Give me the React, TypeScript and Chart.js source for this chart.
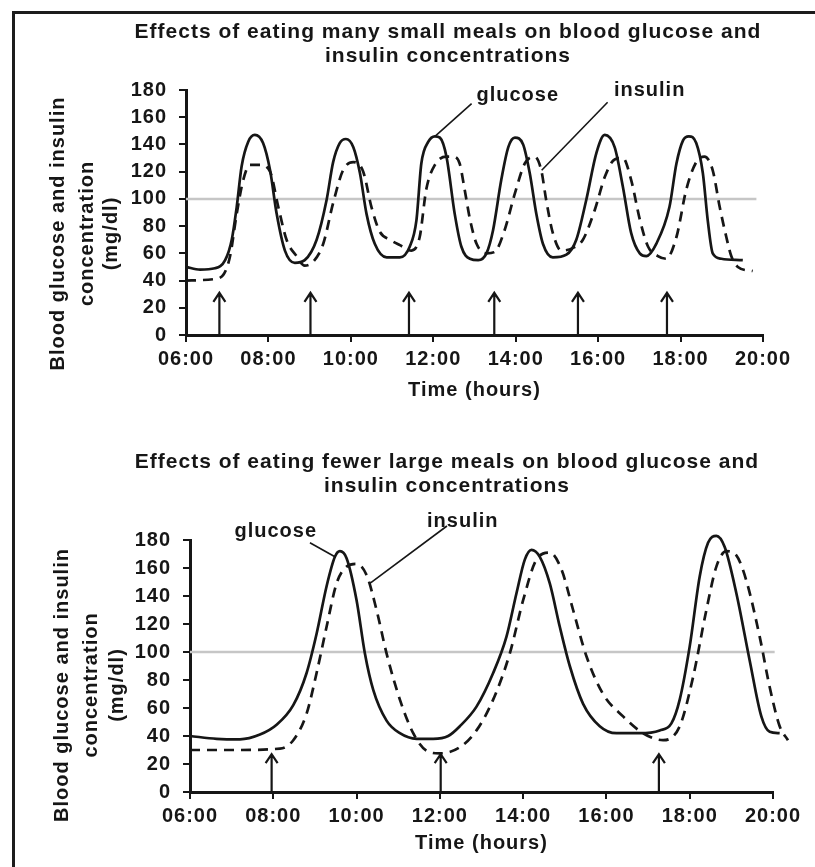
import React, { useEffect, useRef } from 'react';
import { Chart, registerables } from 'chart.js';

Chart.register(...registerables);

const FAMILY = '"Liberation Sans", Arial, Helvetica, sans-serif';
const INK = '#161616';
const LETTER = '1px';

// ---------- shared axis data ----------
const xTickValues = [6, 8, 10, 12, 14, 16, 18, 20];
const xTickLabels = ['06:00', '08:00', '10:00', '12:00', '14:00', '16:00', '18:00', '20:00'];
const yMin = 0;
const yMax = 180;
const yStep = 20;

// ---------- top chart: many small meals ----------
const smallGlucoseTimes = [
  6.0, 6.34, 6.7, 6.95, 7.11, 7.23, 7.35, 7.51, 7.67, 7.87, 8.04, 8.2, 8.4, 8.64, 8.88,
  9.17, 9.41, 9.57, 9.73, 9.88, 10.06, 10.22, 10.38, 10.58, 10.87, 11.19, 11.43, 11.59, 11.71, 11.88,
  12.04, 12.16, 12.32, 12.52, 12.68, 12.89, 13.09, 13.29, 13.45, 13.65, 13.82, 13.98, 14.18, 14.34, 14.5,
  14.66, 14.9, 15.23, 15.47, 15.71, 15.96, 16.16, 16.4, 16.6, 16.8, 17.01, 17.17, 17.41, 17.73, 17.9,
  18.06, 18.2, 18.38, 18.54, 18.66, 18.78, 18.99, 19.51,
];
const smallGlucoseValues = [
  50, 48, 49, 55, 70, 94, 124, 142, 147, 141, 121, 89, 62, 53, 55,
  70, 99, 127, 141, 144, 138, 119, 89, 67, 57, 57, 65, 84, 126, 142,
  146, 145, 131, 89, 65, 56, 55, 60, 77, 114, 138, 145, 140, 119, 89,
  67, 57, 59, 70, 99, 134, 147, 138, 109, 75, 60, 58, 67, 94, 126,
  143, 146, 141, 119, 84, 60, 56, 55,
];
const smallInsulinTimes = [
  6.0, 6.66, 6.9, 7.07, 7.23, 7.39, 7.55, 7.79, 8.04, 8.24, 8.44, 8.68, 8.88, 9.09, 9.33,
  9.57, 9.81, 10.06, 10.3, 10.5, 10.7, 10.95, 11.19, 11.47, 11.67, 11.83, 12.04, 12.32, 12.48, 12.64,
  12.76, 12.89, 13.05, 13.29, 13.49, 13.73, 13.98, 14.22, 14.46, 14.62, 14.74, 14.9, 15.11, 15.39, 15.63,
  15.92, 16.16, 16.4, 16.6, 16.8, 17.01, 17.21, 17.45, 17.65, 17.9, 18.14, 18.38, 18.58, 18.78, 18.95,
  19.11, 19.23, 19.39, 19.75,
];
const smallInsulinValues = [
  40, 41, 44, 58, 89, 114, 125, 125, 120, 94, 70, 58, 51, 54, 67,
  97, 121, 127, 120, 94, 76, 70, 66, 62, 72, 107, 125, 131, 131, 126,
  107, 85, 67, 60, 61, 77, 104, 126, 131, 121, 99, 75, 62, 64, 70,
  92, 116, 129, 130, 114, 85, 65, 58, 56, 72, 107, 127, 131, 121, 94,
  72, 58, 50, 47,
];
const smallRefTimes = [6.0, 19.84];
const smallRefValues = [100, 100];
const smallMealTimes = [6.81, 9.02, 11.41, 13.48, 15.51, 17.67];
const smallArrowTip = 31;

// ---------- bottom chart: fewer large meals ----------
const largeGlucoseTimes = [
  6.0, 6.64, 7.2, 7.68, 8.08, 8.48, 8.8, 9.04, 9.28, 9.48, 9.6, 9.76, 10.0, 10.2, 10.4,
  10.72, 11.04, 11.44, 11.84, 12.2, 12.48, 12.88, 13.28, 13.6, 13.84, 14.04, 14.2, 14.4, 14.64, 14.88,
  15.12, 15.44, 15.84, 16.24, 16.8, 17.28, 17.56, 17.76, 18.0, 18.24, 18.44, 18.64, 18.84, 19.12, 19.44,
  19.72, 19.92, 20.16,
];
const largeGlucoseValues = [
  40, 38, 37.6, 41, 48, 62, 85, 113, 147, 168, 172, 167, 137, 99, 73,
  51, 42, 38, 38, 40, 47, 61, 85, 111, 142, 166, 173, 168, 149, 118,
  90, 63, 47, 42, 42, 44, 49, 66, 104, 154, 178, 183, 175, 142, 94,
  54, 43, 42,
];
const largeInsulinTimes = [
  6.0, 7.04, 8.16, 8.48, 8.8, 9.04, 9.28, 9.52, 9.76, 10.0, 10.24, 10.48, 10.72, 11.04, 11.36,
  11.68, 12.0, 12.48, 12.88, 13.28, 13.68, 14.0, 14.32, 14.64, 14.92, 15.2, 15.52, 15.92, 16.4, 16.88,
  17.36, 17.76, 18.08, 18.4, 18.64, 18.88, 19.12, 19.36, 19.68, 19.92, 20.16, 20.36,
];
const largeInsulinValues = [
  30, 30, 31, 37, 56, 85, 118, 149, 161, 163, 155, 130, 99, 66, 42,
  29.5, 27.6, 32, 44, 66, 99, 137, 166, 171, 159, 130, 97, 70, 54, 42,
  37, 47, 82, 130, 161, 172, 169, 151, 111, 75, 47, 37,
];
const largeRefTimes = [6.0, 20.04];
const largeRefValues = [100, 100];
const largeMealTimes = [7.96, 12.02, 17.26];
const largeArrowTip = 27;

const toPoints = (xs: number[], ys: number[]) => xs.map((x, i) => ({ x, y: ys[i] }));

interface LabelSpec {
  text: string;
  x: number;
  y: number;
  fromX: number;
  fromY: number;
  toX: number;
  toY: number;
}

interface PanelSpec {
  width: number;
  height: number;
  padding: { left: number; right: number; top: number; bottom: number };
  titleLines: string[];
  titleX: number;
  titleBaselines: number[];
  xTitle: string;
  xTitleGap: number;
  yTitleLines: string[];
  yTitleOffsets: number[];
  yTitleShift: number;
  glucose: { x: number; y: number }[];
  insulin: { x: number; y: number }[];
  reference: { x: number; y: number }[];
  meals: number[];
  arrowTip: number;
  labels: LabelSpec[];
}

const Y_TITLE = ['Blood glucose and insulin', 'concentration', '(mg/dl)'];

const topSpec: PanelSpec = {
  width: 815,
  height: 420,
  padding: { left: 126, right: 52, top: 90, bottom: 45 },
  titleLines: ['Effects of eating many small meals on blood glucose and', 'insulin concentrations'],
  titleX: 448,
  titleBaselines: [38, 62],
  xTitle: 'Time (hours)',
  xTitleGap: 55,
  yTitleLines: Y_TITLE,
  yTitleOffsets: [128, 99, 75],
  yTitleShift: 21,
  glucose: toPoints(smallGlucoseTimes, smallGlucoseValues),
  insulin: toPoints(smallInsulinTimes, smallInsulinValues),
  reference: toPoints(smallRefTimes, smallRefValues),
  meals: smallMealTimes,
  arrowTip: smallArrowTip,
  labels: [
    { text: 'glucose', x: 14.05, y: 176, fromX: 12.93, fromY: 170, toX: 12.04, toY: 146 },
    { text: 'insulin', x: 17.25, y: 180, fromX: 16.23, fromY: 171, toX: 14.63, toY: 121 },
  ],
};

const bottomSpec: PanelSpec = {
  width: 815,
  height: 447,
  padding: { left: 130, right: 42, top: 120, bottom: 35 },
  titleLines: ['Effects of eating fewer large meals on blood glucose and', 'insulin concentrations'],
  titleX: 447,
  titleBaselines: [48, 72],
  xTitle: 'Time (hours)',
  xTitleGap: 51,
  yTitleLines: Y_TITLE,
  yTitleOffsets: [128, 99, 73],
  yTitleShift: 19,
  glucose: toPoints(largeGlucoseTimes, largeGlucoseValues),
  insulin: toPoints(largeInsulinTimes, largeInsulinValues),
  reference: toPoints(largeRefTimes, largeRefValues),
  meals: largeMealTimes,
  arrowTip: largeArrowTip,
  labels: [
    { text: 'glucose', x: 8.06, y: 186, fromX: 8.88, fromY: 178, toX: 9.48, toY: 168 },
    { text: 'insulin', x: 12.55, y: 193, fromX: 12.17, fromY: 190, toX: 10.32, toY: 149 },
  ],
};

function makeDecor(spec: PanelSpec) {
  return {
    id: 'decor',
    beforeDraw(chart: any) {
      chart.ctx.letterSpacing = LETTER;
    },
    afterDraw(chart: any) {
      const ctx: CanvasRenderingContext2D = chart.ctx;
      const xs = chart.scales.x;
      const ys = chart.scales.y;
      const area = chart.chartArea;
      ctx.save();
      (ctx as any).letterSpacing = LETTER;
      ctx.fillStyle = INK;
      ctx.strokeStyle = INK;
      ctx.font = `bold 21px ${FAMILY}`;
      ctx.textAlign = 'center';
      ctx.textBaseline = 'alphabetic';
      spec.titleLines.forEach((t, i) => ctx.fillText(t, spec.titleX, spec.titleBaselines[i]));

      ctx.font = `bold 20px ${FAMILY}`;
      ctx.textBaseline = 'middle';
      ctx.fillText(spec.xTitle, (area.left + area.right) / 2, area.bottom + spec.xTitleGap);

      const cy = (area.top + area.bottom) / 2 + spec.yTitleShift;
      spec.yTitleLines.forEach((t, i) => {
        ctx.save();
        ctx.translate(area.left - spec.yTitleOffsets[i], cy);
        ctx.rotate(-Math.PI / 2);
        ctx.fillText(t, 0, 0);
        ctx.restore();
      });

      // meal arrows
      ctx.lineWidth = 2.2;
      ctx.lineCap = 'butt';
      const y0 = ys.getPixelForValue(0);
      const yt = ys.getPixelForValue(spec.arrowTip);
      spec.meals.forEach((m) => {
        const px = xs.getPixelForValue(m);
        ctx.beginPath();
        ctx.moveTo(px, y0);
        ctx.lineTo(px, yt);
        ctx.moveTo(px - 6, yt + 9);
        ctx.lineTo(px, yt);
        ctx.lineTo(px + 6, yt + 9);
        ctx.stroke();
      });

      // curve labels with leader lines
      ctx.lineWidth = 1.6;
      spec.labels.forEach((l) => {
        ctx.fillText(l.text, xs.getPixelForValue(l.x), ys.getPixelForValue(l.y));
        ctx.beginPath();
        ctx.moveTo(xs.getPixelForValue(l.fromX), ys.getPixelForValue(l.fromY));
        ctx.lineTo(xs.getPixelForValue(l.toX), ys.getPixelForValue(l.toY));
        ctx.stroke();
      });
      ctx.restore();
    },
  };
}

function makeConfig(spec: PanelSpec): any {
  const tickFont = { family: FAMILY, size: 20, weight: 'bold' as const };
  return {
    type: 'line',
    data: {
      datasets: [
        {
          label: 'glucose',
          data: spec.glucose,
          borderColor: INK,
          borderWidth: 2.7,
          pointRadius: 0,
          cubicInterpolationMode: 'monotone',
          fill: false,
          clip: false,
        },
        {
          label: 'insulin',
          data: spec.insulin,
          borderColor: INK,
          borderWidth: 2.7,
          borderDash: [10, 7],
          pointRadius: 0,
          cubicInterpolationMode: 'monotone',
          fill: false,
          clip: false,
        },
        {
          label: 'reference',
          data: spec.reference,
          borderColor: '#c6c6c6',
          borderWidth: 2.5,
          pointRadius: 0,
          fill: false,
          clip: false,
        },
      ],
    },
    options: {
      responsive: false,
      animation: false,
      events: [],
      layout: { padding: spec.padding },
      plugins: {
        legend: { display: false },
        title: { display: false },
        tooltip: { enabled: false },
      },
      scales: {
        x: {
          type: 'linear',
          afterDataLimits: (scale: any) => {
            scale.min = xTickValues[0];
            scale.max = xTickValues[xTickValues.length - 1];
          },
          afterFit: (scale: any) => {
            scale.height = 40;
          },
          border: { display: true, color: INK, width: 3 },
          grid: { display: true, drawOnChartArea: false, drawTicks: true, tickLength: 7, color: INK, lineWidth: 2 },
          ticks: {
            stepSize: 2,
            autoSkip: false,
            maxRotation: 0,
            padding: 5,
            color: INK,
            font: tickFont,
            callback: (v: number) => {
              const i = xTickValues.indexOf(v);
              return i >= 0 ? xTickLabels[i] : '';
            },
          },
        },
        y: {
          type: 'linear',
          min: yMin,
          max: yMax,
          afterFit: (scale: any) => {
            scale.width = 60;
          },
          border: { display: true, color: INK, width: 3 },
          grid: { display: true, drawOnChartArea: false, drawTicks: true, tickLength: 7, color: INK, lineWidth: 2 },
          ticks: {
            stepSize: yStep,
            autoSkip: false,
            padding: 12,
            color: INK,
            font: tickFont,
          },
        },
      },
    },
    plugins: [makeDecor(spec)],
  };
}

function Panel({ spec, top }: { spec: PanelSpec; top: number }) {
  const ref = useRef<HTMLCanvasElement | null>(null);
  useEffect(() => {
    if (!ref.current) return;
    const chart = new Chart(ref.current, makeConfig(spec));
    return () => chart.destroy();
  }, [spec]);
  return (
    <canvas
      ref={ref}
      width={spec.width}
      height={spec.height}
      style={{ position: 'absolute', left: 0, top, width: spec.width, height: spec.height }}
    />
  );
}

export default function App() {
  return (
    <div style={{ position: 'absolute', left: 0, top: 0, width: 815, height: 867, background: '#fff', overflow: 'hidden' }}>
      <div
        style={{
          position: 'absolute',
          left: 12,
          top: 11,
          width: 815,
          height: 860,
          borderTop: '3px solid #1c1c1c',
          borderLeft: '3px solid #1c1c1c',
        }}
      />
      <Panel spec={topSpec} top={0} />
      <Panel spec={bottomSpec} top={420} />
    </div>
  );
}
